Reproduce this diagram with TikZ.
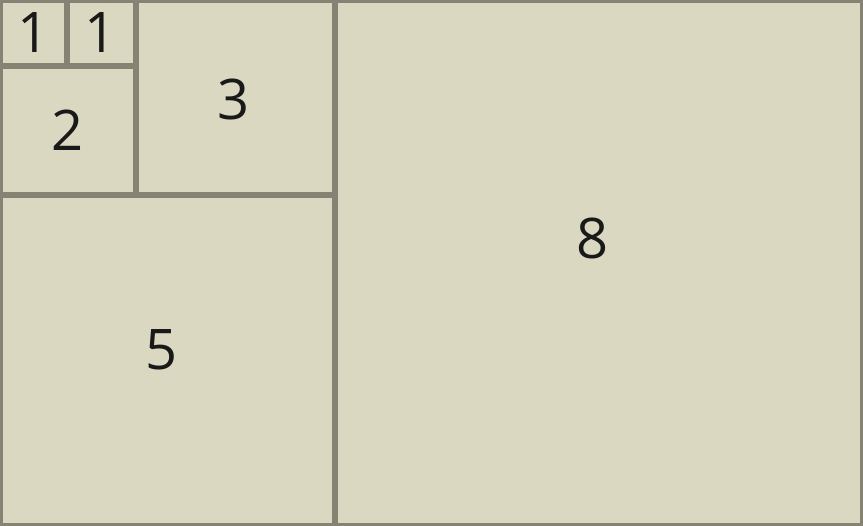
\documentclass[tikz,border=0pt]{standalone}
\usepackage{fontspec}
\setmainfont{Open Sans}
\usepackage{xcolor}
\definecolor{paper}{HTML}{DAD8C0}
\definecolor{frame}{HTML}{858474}

\begin{document}
\begin{tikzpicture}[x=1cm,y=-0.9904cm,
  sq/.style={draw=frame,fill=paper,line width=2.7pt},
  num/.style={font=\fontsize{24}{28}\selectfont,text=black!90}]
\useasboundingbox (0,0) rectangle (13,8);
\fill[paper] (0,0) rectangle (13,8);
% squares of the spiral
\draw[sq] (0,0) rectangle (1.01,1.0);
\draw[sq] (1.01,0) rectangle (2.05,1.0);
\draw[sq] (0,1.0) rectangle (2.05,2.97);
\draw[sq] (2.05,0) rectangle (5.045,2.97);
\draw[sq] (0,2.97) rectangle (5.045,8);
\draw[sq] (5.045,0) rectangle (13,8);
% labels
\node[num] (oneA) at (0.50,0.49) {1};
\node[num] (oneB) at (1.51,0.49) {1};
\node[num] (two) at (1.01,1.98) {2};
\node[num] (three) at (3.51,1.52) {3};
\node[num] (five) at (2.44,5.32) {5};
\node[num] (eight) at (8.92,3.62) {8};
\end{tikzpicture}
\end{document}
